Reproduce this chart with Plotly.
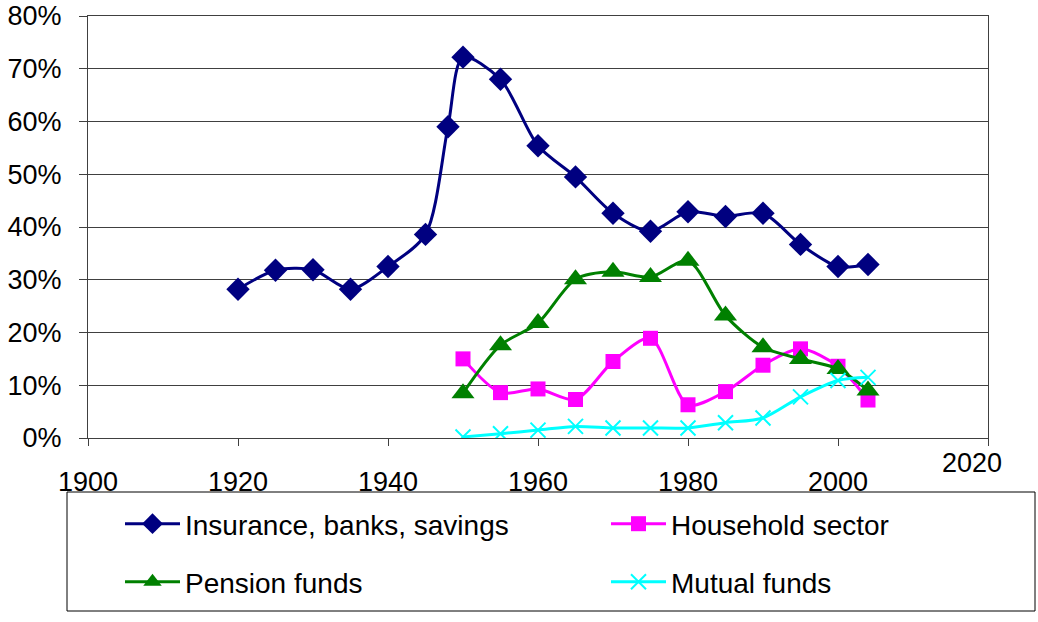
import plotly.graph_objects as go

years_ins = [1920, 1925, 1930, 1935, 1940, 1945, 1948, 1950, 1955, 1960, 1965, 1970, 1975, 1980, 1985, 1990, 1995, 2000, 2004]
insurance = [28.2, 31.8, 31.9, 28.2, 32.5, 38.6, 59.0, 72.2, 68.0, 55.4, 49.5, 42.6, 39.2, 42.9, 42.0, 42.6, 36.7, 32.5, 32.9]

years = [1950, 1955, 1960, 1965, 1970, 1975, 1980, 1985, 1990, 1995, 2000, 2004]
household = [15.0, 8.6, 9.3, 7.3, 14.5, 18.9, 6.3, 8.8, 13.8, 16.9, 13.6, 7.2]
pension = [8.5, 17.6, 21.8, 30.1, 31.5, 30.5, 33.6, 23.2, 17.2, 15.0, 13.1, 9.0]
mutual = [0.2, 0.8, 1.5, 2.2, 1.9, 1.9, 1.9, 2.9, 3.8, 7.8, 10.9, 11.5]

x_ticks = [1900, 1920, 1940, 1960, 1980, 2000, 2020]
x_labels = ["1900", "1920", "1940", "1960", "1980", "2000", ""]
y_ticks = [0, 10, 20, 30, 40, 50, 60, 70, 80]
y_labels = [f"{v}%" for v in y_ticks]

FONT = "Liberation Sans, Arial, sans-serif"
TICK_SIZE = 27
LEG_SIZE = 28

W, H = 1038, 622
L, R, T, B = 88, 50, 16, 184
pw, ph = W - L - R, H - T - B


def px_x(px):
    return (px - L) / pw


def px_y(py):
    return (H - B - py) / ph


fig = go.Figure()


def add(x, y, name, color, symbol, size, legend, lw=0):
    fig.add_trace(go.Scatter(
        x=x, y=y, name=name, mode="lines+markers",
        line=dict(color=color, width=3, shape="spline", smoothing=0.8),
        marker=dict(symbol=symbol, size=size, color=color,
                    line=dict(color=color, width=lw)),
        legend=legend,
    ))


add(years_ins, insurance, "Insurance, banks, savings", "#000080", "diamond", 18, "legend")
add(years, household, "Household sector", "#FF00FF", "square", 15, "legend2")
add(years, pension, "Pension funds", "#008000", "triangle-up", 20, "legend3")
add(years, mutual, "Mutual funds", "#00FFFF", "x-thin", 15, "legend4", lw=2)

fig.add_shape(type="rect", xref="paper", yref="paper",
              x0=px_x(67), x1=px_x(1035), y0=px_y(611), y1=px_y(492),
              line=dict(color="black", width=1), fillcolor="white", layer="below")

fig.add_annotation(x=2017.8, y=px_y(463), xref="x", yref="paper", text="2020",
                   showarrow=False, font=dict(family=FONT, size=TICK_SIZE, color="black"),
                   xanchor="center", yanchor="middle")


def leg(xpx, ypx):
    return dict(orientation="v", bgcolor="rgba(0,0,0,0)", borderwidth=0,
                font=dict(family=FONT, size=LEG_SIZE, color="black"),
                itemwidth=55, x=px_x(xpx), y=px_y(ypx),
                xanchor="left", yanchor="middle")


fig.update_layout(
    width=W, height=H,
    margin=dict(l=L, r=R, t=T, b=B, pad=0, autoexpand=False),
    paper_bgcolor="white", plot_bgcolor="white",
    showlegend=True,
    legend=leg(120, 524),
    legend2=leg(606, 524),
    legend3=leg(120, 582),
    legend4=leg(606, 582),
    font=dict(family=FONT, size=TICK_SIZE, color="black"),
    xaxis=dict(range=[1900, 2020], tickvals=x_ticks, ticktext=x_labels,
               showgrid=False, zeroline=False, showline=True, linecolor="#404040", linewidth=1,
               mirror=True, ticks="outside", ticklen=7, tickcolor="#404040",
               ticklabelstandoff=13, ticklabeloverflow="allow",
               tickfont=dict(family=FONT, size=TICK_SIZE)),
    yaxis=dict(range=[0, 80], tickvals=y_ticks, ticktext=y_labels,
               showgrid=True, gridcolor="#404040", gridwidth=1, zeroline=False,
               showline=True, linecolor="#404040", linewidth=1, mirror=True,
               ticks="outside", ticklen=8, tickcolor="#404040",
               ticklabelstandoff=12, ticklabeloverflow="allow",
               tickfont=dict(family=FONT, size=TICK_SIZE)),
)

fig.write_html("out.html", config={"displayModeBar": False},
               post_script="document.body.style.margin='0';document.body.style.overflow='hidden';")
